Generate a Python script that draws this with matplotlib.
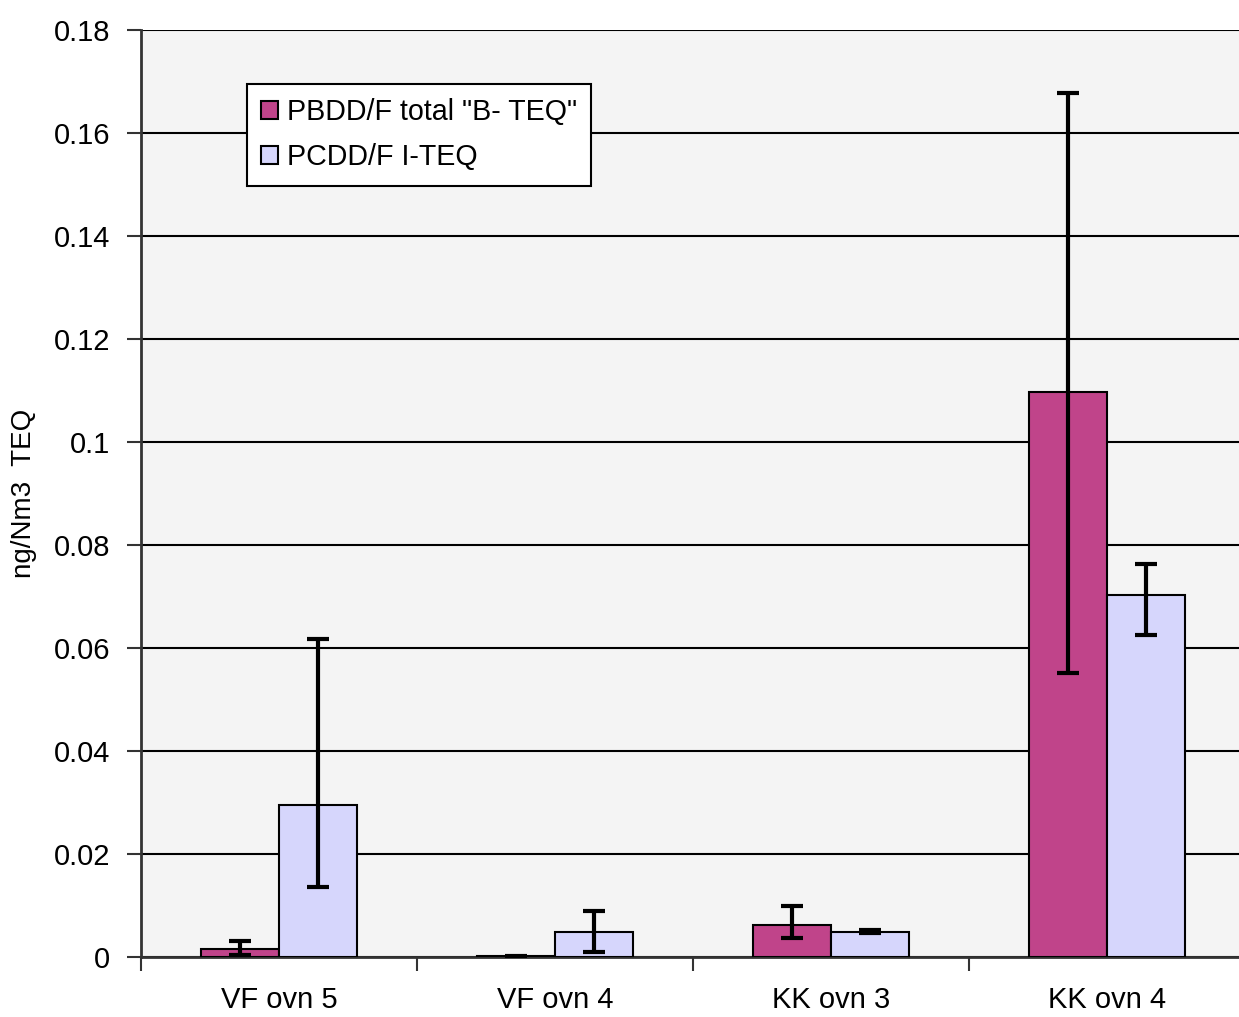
import matplotlib
matplotlib.use("Agg")
import matplotlib.pyplot as plt
import numpy as np

categories = ["VF ovn 5", "VF ovn 4", "KK ovn 3", "KK ovn 4"]
series_names = ['PBDD/F total "B- TEQ"', "PCDD/F I-TEQ"]
pbdd = [0.0015, 0.0001, 0.0062, 0.1098]
pbdd_err_low = [0.0012, 0.0001, 0.0025, 0.0546]
pbdd_err_high = [0.0016, 0.0001, 0.0037, 0.0580]
pcdd = [0.0295, 0.0049, 0.0049, 0.0703]
pcdd_err_low = [0.0159, 0.0039, 0.0003, 0.0077]
pcdd_err_high = [0.0322, 0.0041, 0.0003, 0.0061]
yticks = [0, 0.02, 0.04, 0.06, 0.08, 0.1, 0.12, 0.14, 0.16, 0.18]
ytick_labels = ["0", "0.02", "0.04", "0.06", "0.08", "0.1", "0.12", "0.14", "0.16", "0.18"]

plt.rcParams['font.family'] = ['Liberation Sans', 'DejaVu Sans']

fig = plt.figure(figsize=(12.39, 10.17), dpi=100)
ax = fig.add_axes([141/1239, 1-957/1017, 1104/1239, 927/1017])
ax.set_facecolor("#F4F4F4")

x = np.arange(len(categories)) + 0.5
w = 0.284
c1 = "#C0448A"
c2 = "#D6D6FC"
ax.bar(x - w/2, pbdd, w, color=c1, edgecolor="black", linewidth=1.5, label=series_names[0], zorder=3)
ax.bar(x + w/2, pcdd, w, color=c2, edgecolor="black", linewidth=1.5, label=series_names[1], zorder=3)
ax.errorbar(x - w/2, pbdd, yerr=[pbdd_err_low, pbdd_err_high], fmt="none", ecolor="black",
            elinewidth=3, capsize=8, capthick=3, zorder=4)
ax.errorbar(x + w/2, pcdd, yerr=[pcdd_err_low, pcdd_err_high], fmt="none", ecolor="black",
            elinewidth=3, capsize=8, capthick=3, zorder=4)

ax.set_xlim(0, 4)
ax.set_ylim(0, 0.18)
ax.set_yticks(yticks)
ax.set_yticklabels(ytick_labels)
ax.yaxis.grid(True, color="black", linewidth=1.5, zorder=0)
ax.set_axisbelow(True)

ax.set_xticks(np.arange(0, 5))
ax.set_xticklabels([])
ax.set_xticks(x, minor=True)
ax.set_xticklabels(categories, minor=True)
ax.tick_params(axis="x", which="minor", length=0, pad=21, labelsize=21)
ax.tick_params(axis="x", which="major", length=10, width=1.5, direction="out", color="#333333")
ax.tick_params(axis="y", length=10, width=1.5, direction="out", color="#333333", labelsize=21, pad=12)

for s in ["top", "right"]:
    ax.spines[s].set_visible(False)
ax.spines["left"].set_color("#333333")
ax.spines["left"].set_linewidth(2)
ax.spines["bottom"].set_color("#333333")
ax.spines["bottom"].set_linewidth(2)

ax.set_ylabel("ng/Nm3  TEQ", fontsize=20, labelpad=12)

leg = ax.legend(loc="upper left", bbox_to_anchor=(0.096, 0.942), borderaxespad=0, fontsize=20.6,
                frameon=True, fancybox=False, edgecolor="black", framealpha=1, borderpad=0.5,
                handlelength=0.6, handleheight=0.6, handletextpad=0.3, labelspacing=0.6)
leg.get_frame().set_linewidth(1.5)

fig.savefig("out.png", dpi=100)
